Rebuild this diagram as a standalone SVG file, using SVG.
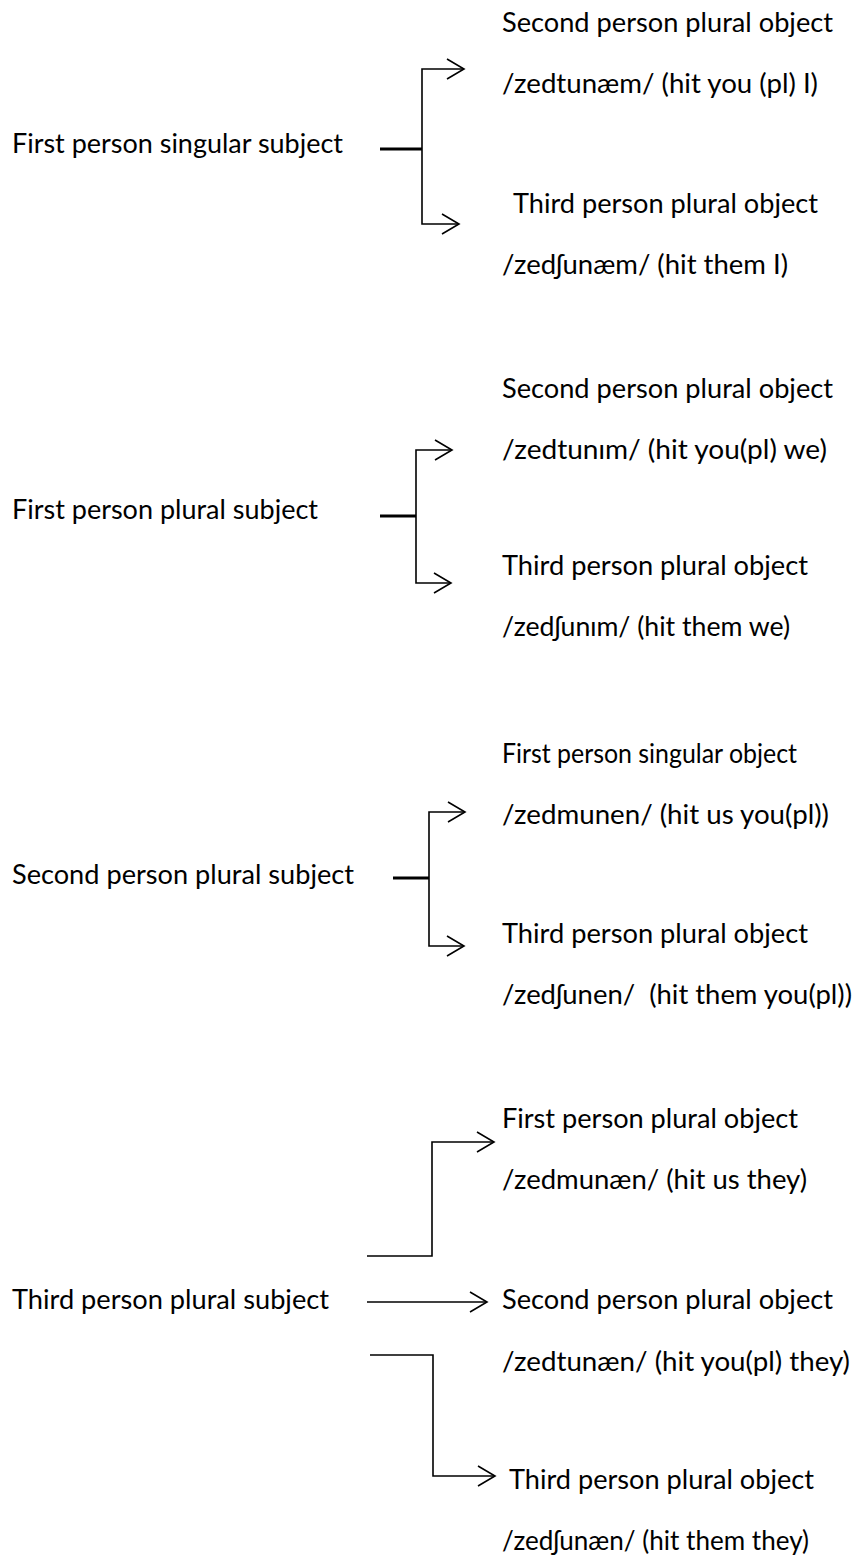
<svg xmlns="http://www.w3.org/2000/svg" width="860" height="1555" viewBox="0 0 860 1555">
<defs>
<style>
text{font-family:Lato,"Open Sans","Liberation Sans",sans-serif;font-size:26px;fill:#000}
.c{fill:none;stroke:#000;stroke-width:1.6}
.s{fill:none;stroke:#000;stroke-width:3}
</style>
<marker id="ah" viewBox="-18 -11 20 22" markerWidth="20" markerHeight="22" refX="0" refY="0" orient="auto" markerUnits="userSpaceOnUse">
<path d="M-17,-10 L0,0 L-17,10" fill="none" stroke="#000" stroke-width="1.6"/>
</marker>
</defs>
<rect width="860" height="1555" fill="#fff"/>
<g id="connectors">
<path class="s" d="M380,149 H422"/>
<path class="c" d="M422,149 V69 H464" marker-end="url(#ah)"/>
<path class="c" d="M422,149 V224 H459" marker-end="url(#ah)"/>
<path class="s" d="M380,516 H416"/>
<path class="c" d="M416,516 V450 H452" marker-end="url(#ah)"/>
<path class="c" d="M416,516 V583 H451" marker-end="url(#ah)"/>
<path class="s" d="M393,878 H429"/>
<path class="c" d="M429,878 V812 H465" marker-end="url(#ah)"/>
<path class="c" d="M429,878 V946 H464" marker-end="url(#ah)"/>
<path class="c" d="M367,1256 H432 V1142 H494" marker-end="url(#ah)"/>
<path class="c" d="M367,1302 H487" marker-end="url(#ah)"/>
<path class="c" d="M370,1355 H433 V1476 H495" marker-end="url(#ah)"/>
</g>
<g id="n1">
<text x="12" y="153" textLength="331" lengthAdjust="spacingAndGlyphs">First person singular subject</text>
</g>
<g id="n1a">
<text x="502" y="32" textLength="331" lengthAdjust="spacingAndGlyphs">Second person plural object</text>
<text x="502" y="93" textLength="316" lengthAdjust="spacingAndGlyphs">/zedtunæm/ (hit you (pl) I)</text>
</g>
<g id="n1b">
<text x="513" y="213" textLength="305" lengthAdjust="spacingAndGlyphs">Third person plural object</text>
<text x="502" y="274" textLength="286" lengthAdjust="spacingAndGlyphs">/zedʃunæm/ (hit them I)</text>
</g>
<g id="n2">
<text x="12" y="519" textLength="306" lengthAdjust="spacingAndGlyphs">First person plural subject</text>
</g>
<g id="n2a">
<text x="502" y="398" textLength="331" lengthAdjust="spacingAndGlyphs">Second person plural object</text>
<text x="502" y="459" textLength="325" lengthAdjust="spacingAndGlyphs">/zedtunɪm/ (hit you(pl) we)</text>
</g>
<g id="n2b">
<text x="502" y="575" textLength="306" lengthAdjust="spacingAndGlyphs">Third person plural object</text>
<text x="502" y="636" textLength="288" lengthAdjust="spacingAndGlyphs">/zedʃunɪm/ (hit them we)</text>
</g>
<g id="n3">
<text x="12" y="884" textLength="342" lengthAdjust="spacingAndGlyphs">Second person plural subject</text>
</g>
<g id="n3a">
<text x="502" y="763" textLength="295" lengthAdjust="spacingAndGlyphs">First person singular object</text>
<text x="502" y="824" textLength="327" lengthAdjust="spacingAndGlyphs">/zedmunen/ (hit us you(pl))</text>
</g>
<g id="n3b">
<text x="502" y="943" textLength="306" lengthAdjust="spacingAndGlyphs">Third person plural object</text>
<text x="502" y="1004" textLength="350" lengthAdjust="spacingAndGlyphs" xml:space="preserve">/zedʃunen/  (hit them you(pl))</text>
</g>
<g id="n4">
<text x="12" y="1309" textLength="317" lengthAdjust="spacingAndGlyphs">Third person plural subject</text>
</g>
<g id="n4a">
<text x="502" y="1128" textLength="296" lengthAdjust="spacingAndGlyphs">First person plural object</text>
<text x="502" y="1189" textLength="305" lengthAdjust="spacingAndGlyphs">/zedmunæn/ (hit us they)</text>
</g>
<g id="n4b">
<text x="502" y="1309" textLength="331" lengthAdjust="spacingAndGlyphs">Second person plural object</text>
<text x="502" y="1371" textLength="348" lengthAdjust="spacingAndGlyphs">/zedtunæn/ (hit you(pl) they)</text>
</g>
<g id="n4c">
<text x="509" y="1489" textLength="305" lengthAdjust="spacingAndGlyphs">Third person plural object</text>
<text x="502" y="1550" textLength="307" lengthAdjust="spacingAndGlyphs">/zedʃunæn/ (hit them they)</text>
</g>
</svg>
